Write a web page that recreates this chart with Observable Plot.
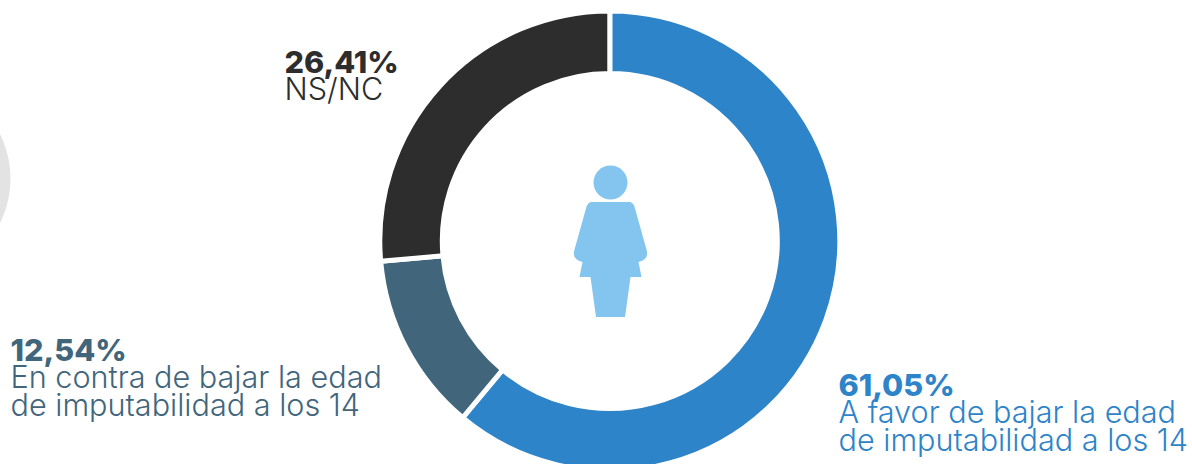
<!DOCTYPE html>
<html><head><meta charset="utf-8">
<style>html,body{margin:0;padding:0;background:#fff;overflow:hidden}svg{display:block}</style>
<script src="https://cdn.jsdelivr.net/npm/d3@7"></script>
<script src="https://cdn.jsdelivr.net/npm/@observablehq/plot@0.6"></script>
</head><body><script>
const categories = ["A favor", "En contra", "NS/NC"];
const shares = [61.05, 12.54, 26.41];
const colors = ["#2e84c9", "#41667c", "#2d2d2d"];
const valueLabels = ["61,05%", "12,54%", "26,41%"];
const descriptions = ["A favor de bajar la edad\nde imputabilidad a los 14", "En contra de bajar la edad\nde imputabilidad a los 14", "NS/NC"];
const labelX = [838, 10, 284];
const valueY = [395, 360, 72];
const descY = [450, 415, 99.5];

const slices = categories.map((category, i) => ({category, share: shares[i]}));
const labels = categories.map((category, i) => ({category, value: valueLabels[i], text: descriptions[i], x: labelX[i], vy: valueY[i], dy: descY[i]}));
const font = "Inter, 'Open Sans', sans-serif";

const pie = d3.pie().sort(null).value(d => d.share)(slices);
const arc = d3.arc().innerRadius(167.5).outerRadius(230);

function donut(index, scales, values) {
  const g = d3.create("svg:g");
  for (const i of index) {
    g.append("path")
      .attr("transform", `translate(${values.x[i]},${values.y[i]})`)
      .attr("d", arc(pie[i]))
      .attr("fill", values.fill[i])
      .attr("stroke", "#fff")
      .attr("stroke-width", 5);
  }
  return g.node();
}

const womanBody = {
  draw(c) {
    c.moveTo(-19, -39.5);
    c.lineTo(19, -39.5); c.quadraticCurveTo(23, -39.5, 24.5, -33);
    c.lineTo(36, 8); c.quadraticCurveTo(39, 18, 28, 20.5);
    c.lineTo(31, 35.5); c.lineTo(20, 35.5); c.lineTo(14.5, 75.5); c.lineTo(-14.5, 75.5); c.lineTo(-20, 35.5); c.lineTo(-31, 35.5); c.lineTo(-28, 20.5);
    c.quadraticCurveTo(-39, 18, -36, 8); c.lineTo(-24.5, -33); c.quadraticCurveTo(-23, -39.5, -19, -39.5);
    c.closePath();
  }
};

const chart = Plot.plot({
  width: 1192, height: 464,
  margin: 0,
  x: {domain: [0, 1192], range: [0, 1192], axis: null},
  y: {domain: [0, 464], range: [0, 464], axis: null},
  color: {domain: categories, range: colors},
  marks: [
    Plot.dot([{x: -90, y: 178}], {x: "x", y: "y", r: 100, fill: "#e3e3e3", stroke: null}),
    Plot.dot(slices, {x: () => 609.8, y: () => 241, fill: "category", r: 1, render: donut}),
    Plot.dot([{x: 610, y: 182}], {x: "x", y: "y", r: 17, fill: "#84c5f0", stroke: null}),
    Plot.dot([{x: 610, y: 241}], {x: "x", y: "y", r: 1, symbol: womanBody, fill: "#84c5f0", stroke: null}),
    Plot.text(labels, {x: "x", y: "vy", text: "value", fill: "category", textAnchor: "start", lineAnchor: "bottom", fontFamily: font, fontWeight: 800, fontSize: 30.6}),
    Plot.text(labels, {x: "x", y: "dy", text: "text", fill: "category", textAnchor: "start", lineAnchor: "bottom", lineHeight: 0.89, fontFamily: font, fontWeight: 300, fontSize: 30.6})
  ]
});
document.body.append(chart);
</script></body></html>
